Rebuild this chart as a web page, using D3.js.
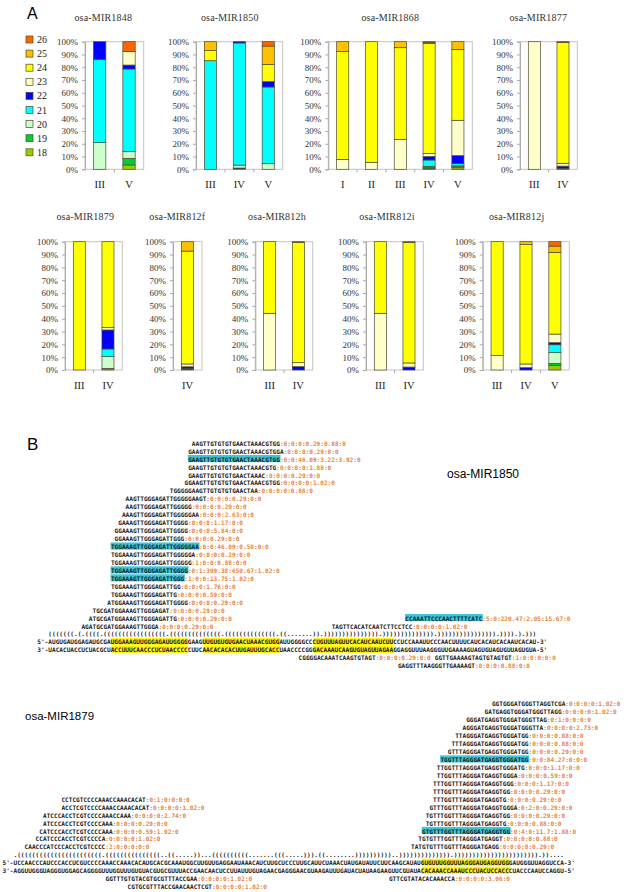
<!DOCTYPE html>
<html><head><meta charset="utf-8">
<script src="https://cdn.jsdelivr.net/npm/d3@7"></script>
<style>body{margin:0;background:#fff}svg{display:block}</style>
</head><body>
<svg id="fig" width="626" height="892"></svg>
<script>
// ---------------- Panel A data ----------------
const sizeKeys = ["18","19","20","21","22","23","24","25","26"];
const sizeColors = ["#99CC00","#00CC33","#CCFFCC","#00FFFF","#0000FF","#FFFFCC","#FFFF00","#FFC000","#FF6600"];

const mir1848Cats = ["III","V"];
const mir1848Values = [[0,0,20.9,65.3,13.8,0,0,0,0],[3.4,5.2,5.2,64.8,3.1,10.5,0,0,7.8]];
const mir1850Cats = ["III","IV","V"];
const mir1850Values = [[0,0,0,85.1,0,0,7.9,7,0],[0.5,0.5,2.3,95.7,1,0,0,0,0],[0,0,4.4,60.1,4.2,0,13.5,14.4,3.4]];
const mir1868Cats = ["I","II","III","IV","V"];
const mir1868Values = [[0,0,0,0,0,7.8,84.4,7.8,0],[0,0,0,0,0,5.5,94.5,0,0],[0,0,0,0,0,23.5,71.8,4.7,0],[0.5,1,0.8,5,2.7,2.5,86,1,0.5],[1.2,1,0.5,1.8,6.2,27.7,55.6,6,0]];
const mir1877Cats = ["III","IV"];
const mir1877Values = [[0,0,0,0,0,100,0,0,0],[0,0,0,0.8,1.7,2.2,94.8,0,0.5]];
const mir1879Cats = ["III","IV"];
const mir1879Values = [[0,0,0,0,0,0,100,0,0],[0,1.3,9.1,6,14.8,1.8,67,0,0]];
const mir812fCats = ["IV"];
const mir812fValues = [[0.6,0.6,0,0,1.3,2.2,88,7.3,0]];
const mir812hCats = ["III","IV"];
const mir812hValues = [[0,0,0,0,0,44.2,55.8,0,0],[0,0,0,0,2.6,3.1,93.6,0,0.7]];
const mir812iCats = ["III","IV"];
const mir812iValues = [[0,0,0,0,0,44.2,55.8,0,0],[0,0,0,0,2.3,3.2,94,0,0.5]];
const mir812jCats = ["III","IV","V"];
const mir812jValues = [[0,0,0,0,0,11.2,88.8,0,0],[0,0,0,0,1.8,2.9,93,2.3,0],[3.4,1.8,8.3,6.2,1.6,6.7,63.7,4.9,3.4]];
const yTickValues = [0,10,20,30,40,50,60,70,80,90,100];

// ---------------- Panel B data ----------------
// [sequence, counts, alignment offset (chars), row, highlighted]
const hp1Reads = [
 ["AAGTTGTGTGTGAACTAAACGTGG","0:0:0:0.29:0.88:0",42,0,0],
 ["GAAGTTGTGTGTGAACTAAACGTGGA","0:0:0:0.29:0:0",41,1,0],
 ["GAAGTTGTGTGTGAACTAAACGTGG","0:0:46.09:3.22:3.92:0",41,2,1],
 ["GAAGTTGTGTGTGAACTAAACGTG","0:0:0:0:1.88:0",41,3,0],
 ["GAAGTTGTGTGTGAACTAAAC","0:0:0:0.29:0:0",41,4,0],
 ["GGAAGTTGTGTGTGAACTAAACGTGG","0:0:0:0:1.02:0",40,5,0],
 ["TGGGGGAAGTTGTGTGTGAACTAA","0:0:0:0:0.88:0",36,6,0],
 ["AAGTTGGGAGATTGGGGGAAGT","0:0:0:0.29:0:0",24,7,0],
 ["AAGTTGGGAGATTGGGGG","0:0:0:0.29:0:0",24,8,0],
 ["AAAGTTGGGAGATTGGGGGAA","0:0:0:2.63:0:0",23,9,0],
 ["GAAAGTTGGGAGATTGGGG","0:0:0:1.17:0:0",22,10,0],
 ["GGAAAGTTGGGAGATTGGGG","0:0:0:5.84:0:0",21,11,0],
 ["GGAAAGTTGGGAGATTGGG","0:0:0:0.29:0:0",21,12,0],
 ["TGGAAAGTTGGGAGATTGGGGGAA","0:0:46.09:0.58:0:0",20,13,1],
 ["TGGAAAGTTGGGAGATTGGGGGA","0:0:0:0.29:0:0",20,14,0],
 ["TGGAAAGTTGGGAGATTGGGGG","1:0:0:0.88:0:0",20,15,0],
 ["TGGAAAGTTGGGAGATTGGGG","0:1:309.38:650.67:1.02:0",20,16,1],
 ["TGGAAAGTTGGGAGATTGGG","1:0:0:13.75:1.02:0",20,17,1],
 ["TGGAAAGTTGGGAGATTGG","0:0:0:1.76:0:0",20,18,0],
 ["TGGAAAGTTGGGAGATTG","0:0:0:0.59:0:0",20,19,0],
 ["ATGGAAAGTTGGGAGATTGGGG","0:0:0:0.29:0:0",19,20,0],
 ["TGCGATGGAAAGTTGGGAGAT","0:0:0:0.29:0:0",15,21,0],
 ["ATGCGATGGAAAGTTGGGAGATTG","0:0:0:0.29:0:0",14,22,0],
 ["AGATGCGATGGAAAGTTGGGA","0:0:0:0.29:0:0",12,23,0],
 ["CCAAATTCCCAACTTTTCATC","5:0:220.47:2.05:15.67:0",100,22,1],
 ["TAGTTCACATCAATCTTCCTCC","0:0:0:0:1.02:0",80,23,0],
 ["CGGGGACAAATCAAGTGTAGT","0:0:0:0.29:0:0",71,27,0],
 ["GGTTGAAAAGTAGTGTAGTGT","1:0:0:0:0:0",108,27,0],
 ["GAGGTTTAAGGGTTGAAAAGT","0:0:0:0.88:0:0",98,28,0]
];
const hp1Bracket = "(((((((.(.((((.(((((((((((((((((.((((((((((((((.((((((((((((((.((.......)).))))))))))))))).)))))))))))))).)))))))))))))))).)))).).)))";
const hp1Five = [["5'-AUGUGAUGGAGAUGCGA",0],["UGGAAAGUUGGGAGAUUGGGG",1],["GAAG",0],["UUGUGUGUGAACUAAACGUGG",1],["AUUGGGGCC",0],["CUGUUUAGUUCACAUCAAUCUU",1],["CCUCCAAAUUCCCAACUUUUCAUCACAUCACAAUCACAU-3'",0]];
const hp1Three = [["3'-UACACUACCUCUACGCU",0],["ACCUUUCAACCCUCUAACCCC",1],["CUUC",0],["AACACACACUUGAUUUGCACC",1],["UAACCCCGG",0],["GACAAAUCAAGUGUAGUUAGAA",1],["GGAGGUUUAAGGGUUGAAAAGUAGUGUAGUGUUAGUGUA-5'",0]];

const hp2Reads = [
 ["GGTGGGATGGGTTAGGTCGA","0:0:0:0:1.02:0",133,0,0],
 ["GATGAGGTGGGATGGGTTAGG","0:0:0:0:1.02:0",131,1,0],
 ["GGGATGAGGTGGGATGGGTTAG","0:1:0:0:0:0",126,2,0],
 ["AGGGATGAGGTGGGATGGGTTA","0:0:0:0:2.73:0",125,3,0],
 ["TTAGGGATGAGGTGGGATGG","0:0:0:0.88:0:0",123,4,0],
 ["TTTAGGGATGAGGTGGGATGG","0:0:0:0.88:0:0",122,5,0],
 ["GTTTAGGGATGAGGTGGGATGG","0:0:0:0.29:0:0",121,6,0],
 ["TGGTTTAGGGATGAGGTGGGATGG","0:0:84.27:0:0:0",119,7,1],
 ["TTGGTTTAGGGATGAGGTGGGATG","0:0:0:1.17:0:0",118,8,0],
 ["TTGGTTTAGGGATGAGGTGGGA","0:0:0:0.59:0:0",118,9,0],
 ["TTTGGTTTAGGGATGAGGTGGG","0:0:0:1.17:0:0",117,10,0],
 ["TTTGGTTTAGGGATGAGGTGG","0:0:0:0.29:0:0",117,11,0],
 ["TTTGGTTTAGGGATGAGGTG","0:0:0:0.29:0:0",117,12,0],
 ["GTTTGGTTTAGGGATGAGGTGGGA","0:2:0:0.29:0:0",116,13,0],
 ["TGTTTGGTTTAGGGATGAGGTGG","0:0:0:0.29:0:0",115,14,0],
 ["TGTTTGGTTTAGGGATGAGGTG","0:0:0:0.88:0:0",115,15,0],
 ["GTGTTTGGTTTAGGGATGAGGTGG","0:4:0:11.7:1.88:0",114,16,1],
 ["TGTGTTTGGTTTAGGGATGAGGT","0:0:0:0:0.88:0",113,17,0],
 ["TATGTGTTTGGTTTAGGGATGAGG","0:0:0:0:0.29:0",111,18,0],
 ["CCTCGTCCCCAAACCAAACACAT","0:1:0:0:0:0",16,12,0],
 ["ACCTCGTCCCCAAACCAAACACAT","0:0:0:0:1.02:0",16,13,0],
 ["ATCCCACCTCGTCCCCAAACCAAA","0:0:0:0:2.74:0",11,14,0],
 ["ATCCCACCTCGTCCCCAAA","0:0:0:0.29:0:0",11,15,0],
 ["CATCCCACCTCGTCCCCAAA","0:0:0:0.59:1.02:0",10,16,0],
 ["CCATCCCACCTCGTCCCCA","0:0:0:0:1.02:0",9,17,0],
 ["CAACCCATCCCACCTCGTCCCC","2:0:0:0:0:0",6,18,0],
 ["GTTCGTATACACAAACCA","0:0:0:0:3.06:0",105,22,0],
 ["GGTTTGTGTACGTGCGTTTACCGAA","0:0:0:0:1.02:0",28,22,0],
 ["CGTGCGTTTACCGAACAACTCGT","0:0:0:0:1.02:0",34,23,0]
];
const hp2Bracket = ".(((((((((((((((((((((((.(((((((((((((((..((.....))...((((((((((.......(((.....))).((........))))))))))..)))))))))))))).))))))))))))))))))))))).))....";
const hp2Five = [["5'-UCCAACCCAUCCCACCUCGUCCCCAAACCAAACACAUGCACGCAAAUGGCUUGUUGAGGAAUAAACAUCUUGCUCCCUUGCAUUCUAAACUAUGAUAUUCUUCAAGCAUAU",0],["GUGUUUGGUUUAGGGAUGAGGUGG",1],["GAUGGGUUAGGUCCA-3'",0]];
const hp2Three = [["3'-AGGUUGGGUAGGGUGGAGCAGGGGUUUGGUUUGUGUACGUGCGUUUACCGAACAACUCCUUAUUUGUAGAACGAGGGAACGUAAGAUUUGAUACUAUAAGAAGUUCGUAUA",0],["CACAAACCAAAUCCCUACUCCACC",1],["CUACCCAAUCCAGGU-5'",0]];

// ---------------- Drawing ----------------
const svg = d3.select("#fig");
const serif = "'Liberation Serif','Times New Roman',serif";

svg.append("text").attr("x",27).attr("y",19).attr("font-family","'Liberation Sans',Arial,sans-serif")
  .attr("font-size",16).text("A");

// legend
const legendOrder = sizeKeys.map((k,i)=>({k,c:sizeColors[i]})).reverse();
const lg = svg.append("g");
legendOrder.forEach((d,i)=>{
  const cy = 39.5 + i*14.1;
  lg.append("rect").attr("x",26).attr("y",cy-3.5).attr("width",7).attr("height",7)
    .attr("fill",d.c).attr("stroke","#4a4a30").attr("stroke-width",0.7);
  lg.append("text").attr("x",37).attr("y",cy).attr("dominant-baseline","central")
    .attr("font-family",serif).attr("font-size",10).attr("fill","#222").text(d.k);
});

const rowsLayout = [
  {top:41.7,bottom:169.3,titleY:17,labelY:184},
  {top:241.7,bottom:370,titleY:216.7,labelY:385}
];
const charts = [
  {name:"osa-MIR1848",cats:mir1848Cats,vals:mir1848Values},
  {name:"osa-MIR1850",cats:mir1850Cats,vals:mir1850Values},
  {name:"osa-MIR1868",cats:mir1868Cats,vals:mir1868Values},
  {name:"osa-MIR1877",cats:mir1877Cats,vals:mir1877Values},
  {name:"osa-MIR1879",cats:mir1879Cats,vals:mir1879Values},
  {name:"osa-MIR812f",cats:mir812fCats,vals:mir812fValues},
  {name:"osa-MIR812h",cats:mir812hCats,vals:mir812hValues},
  {name:"osa-MIR812i",cats:mir812iCats,vals:mir812iValues},
  {name:"osa-MIR812j",cats:mir812jCats,vals:mir812jValues}
];
// [plot left, plot right, row, title centre]
const frames = [[85,143.7,0,103.3],[196,282.7,0,229.8],[328.3,472.3,0,390.3],[520,577.3,0,538.3],
  [65,122.3,1,85.3],[173,202,1,177.3],[255.3,312.7,1,277],[366,423.3,1,387],[482.7,569.3,1,516.7]];

charts.forEach((c,i)=>{
  const [x0,x1,r,tx] = frames[i];
  const R = rowsLayout[r];
  const x = d3.scaleBand().domain(c.cats).range([x0,x1]).paddingInner(0.58).paddingOuter(0.29);
  const y = d3.scaleLinear().domain([0,100]).range([R.bottom,R.top]);
  const g = svg.append("g");
  g.append("text").attr("x",tx).attr("y",R.titleY).attr("text-anchor","middle").attr("dominant-baseline","central")
    .attr("font-family",serif).attr("font-size",10).attr("letter-spacing",0.2).attr("fill","#333").text(c.name);
  g.append("rect").attr("x",x0).attr("y",R.top).attr("width",x1-x0).attr("height",R.bottom-R.top)
    .attr("fill","none").attr("stroke","#c4c4c4").attr("stroke-width",1);
  const ya = g.append("g").attr("transform",`translate(${x0},0)`)
    .call(d3.axisLeft(y).tickValues(yTickValues).tickFormat(d=>d+"%").tickSize(3).tickPadding(4));
  ya.select(".domain").attr("stroke","#aaa");
  ya.selectAll(".tick line").attr("stroke","#aaa");
  ya.selectAll(".tick text").attr("font-family",serif).attr("font-size",9).attr("fill","#333");
  // category ticks at band boundaries
  const step = x.step();
  const bnd = d3.range(1,c.cats.length).map(k=>x0+k*step);
  g.selectAll(null).data(bnd).join("line").attr("x1",d=>d).attr("x2",d=>d)
    .attr("y1",R.bottom).attr("y2",R.bottom+3).attr("stroke","#aaa");
  g.selectAll(null).data(c.cats).join("text").attr("x",d=>x(d)+x.bandwidth()/2).attr("y",R.labelY)
    .attr("text-anchor","middle").attr("dominant-baseline","central").attr("font-family",serif)
    .attr("font-size",10.5).attr("fill","#222").text(d=>d);
  const data = c.cats.map((cat,j)=>{const o={cat}; sizeKeys.forEach((k,m)=>o[k]=c.vals[j][m]); return o;});
  const layers = d3.stack().keys(sizeKeys)(data);
  layers.forEach((layer,m)=>{
    g.selectAll(null).data(layer.filter(d=>d[1]-d[0]>0)).join("rect")
      .attr("x",d=>x(d.data.cat)).attr("width",x.bandwidth())
      .attr("y",d=>y(d[1])).attr("height",d=>y(d[0])-y(d[1]))
      .attr("fill",sizeColors[m]).attr("stroke","#4a4a30").attr("stroke-width",0.7);
  });
});

// ---------------- Panel B ----------------
svg.append("text").attr("x",27).attr("y",450).attr("font-family","'Liberation Sans',Arial,sans-serif")
  .attr("font-size",17).text("B");
svg.append("text").attr("x",447).attr("y",478).attr("font-family","'Liberation Sans',Arial,sans-serif")
  .attr("font-size",12).text("osa-MIR1850");
svg.append("text").attr("x",25).attr("y",720).attr("font-family","'Liberation Sans',Arial,sans-serif")
  .attr("font-size",11.5).text("osa-MIR1879");

const cw = 3.68;
const mono = "'DejaVu Sans Mono','Liberation Mono',monospace";
const fs = 6.1;
const seqCol = "#1a1a1a", numCol = "#E8843C", cyanHl = "#3CC8DA", yellowHl = "#FFF21A";

function drawHairpin(reads, bracket, five, three, x0, y0, lh, rowBracket){
  const g = svg.append("g").attr("font-family",mono).attr("font-size",fs).attr("font-weight","bold");
  const X = o => x0 + o*cw, Y = r => y0 + r*lh;
  reads.forEach(([s,n,o,r,h])=>{
    if(h) g.append("rect").attr("x",X(o)-0.3).attr("y",Y(r)-3.6).attr("width",s.length*cw+0.6).attr("height",7.2).attr("fill",cyanHl);
    const t = g.append("text").attr("x",X(o)).attr("y",Y(r)).attr("dominant-baseline","central");
    t.append("tspan").attr("fill",seqCol).text(s);
    t.append("tspan").attr("fill",numCol).text(":"+n);
  });
  g.append("text").attr("x",X(3)).attr("y",Y(rowBracket)).attr("dominant-baseline","central").attr("fill",seqCol).text(bracket);
  [[five,rowBracket+1],[three,rowBracket+2]].forEach(([segs,r])=>{
    let o = 0;
    segs.forEach(([s,h])=>{
      if(h) g.append("rect").attr("x",X(o)).attr("y",Y(r)-3.6).attr("width",s.length*cw).attr("height",7.2).attr("fill",yellowHl);
      o += s.length;
    });
    const t = g.append("text").attr("x",X(0)).attr("y",Y(r)).attr("dominant-baseline","central").attr("fill",seqCol);
    segs.forEach(([s])=>t.append("tspan").text(s));
  });
}
drawHairpin(hp1Reads, hp1Bracket, hp1Five, hp1Three, 37.3, 442.7, 7.95, 24);
drawHairpin(hp2Reads, hp2Bracket, hp2Five, hp2Three, 2.5, 703.3, 7.95, 19);
</script>
</body></html>
